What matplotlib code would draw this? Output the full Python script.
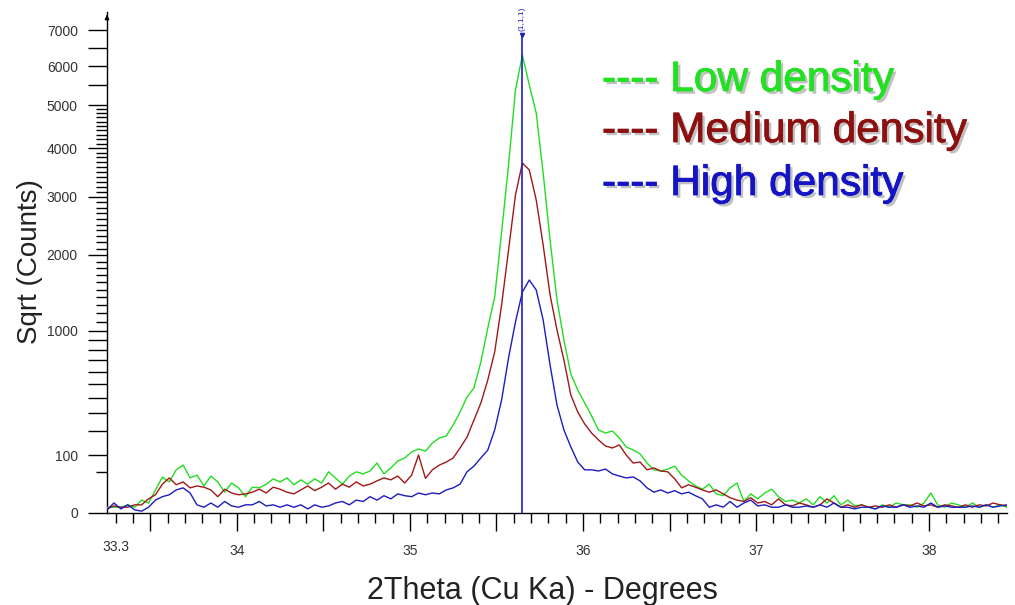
import numpy as np
import matplotlib
matplotlib.use("Agg")
import matplotlib.pyplot as plt
import matplotlib.patheffects as pe
from matplotlib.transforms import blended_transform_factory

plt.rcParams['font.family'] = ['Liberation Sans', 'DejaVu Sans']

# 2Theta scan positions (degrees), step 0.04
two_theta = np.round(np.arange(33.25, 38.4501, 0.04), 2)

low_density = [
    1, 1, 1, 2, 1, 5, 3, 16, 39, 29,
    56, 69, 37, 43, 22, 41, 29, 13, 27, 19,
    8, 20, 19, 25, 35, 29, 37, 24, 33, 25,
    35, 27, 51, 37, 25, 41, 51, 46, 53, 75,
    46, 61, 81, 91, 112, 123, 115, 147, 169, 178,
    233, 306, 404, 469, 685, 1028, 1401, 2371, 3637, 5375,
    6300, 5502, 4806, 3472, 2239, 1363, 899, 580, 454, 363,
    283, 207, 192, 202, 169, 131, 119, 105, 75, 56,
    53, 58, 66, 43, 31, 22, 17, 25, 11, 9,
    19, 27, 4, 11, 6, 12, 17, 8, 4, 5,
    3, 6, 2, 8, 3, 9, 2, 5, 1.5, 2,
    1, 0.5, 2, 1, 3, 2, 2, 1, 3, 12,
    2, 1, 3, 2, 1, 3, 1, 2, 1, 2,
    1,
]

medium_density = [
    0.5, 1.5, 1, 1, 2, 2, 6, 10, 25, 37,
    24, 29, 19, 22, 20, 16, 8, 17, 12, 10,
    11, 13, 17, 12, 20, 17, 13, 11, 16, 22,
    15, 20, 27, 17, 25, 20, 29, 22, 25, 31,
    37, 33, 41, 27, 43, 101, 36, 56, 69, 78,
    91, 127, 173, 260, 363, 531, 779, 1300, 2078, 3037,
    3680, 3534, 2943, 2157, 1428, 1006, 703, 418, 306, 238,
    192, 160, 135, 127, 139, 101, 75, 78, 56, 61,
    53, 51, 35, 19, 24, 20, 16, 13, 16, 11,
    7, 5, 4, 7, 3, 4, 2, 6, 2, 1.5,
    3, 2, 1, 2, 6, 3, 1, 2, 1, 2,
    1, 1.5, 1, 2, 1, 2, 1.5, 3, 1.5, 2,
    1, 2, 1.5, 1, 2, 1, 2, 1.5, 3, 2,
    1.5,
]

high_density = [
    0.3, 3, 0.5, 2, 0.3, 0.1, 1, 5, 8, 10,
    16, 19, 12, 2, 1, 3, 1, 4, 1.5, 1,
    2, 2, 4, 1.5, 2, 1, 2, 1, 2, 0.5,
    2, 1, 1.5, 3, 4, 2, 5, 4, 8, 5,
    9, 6, 11, 9, 8, 12, 10, 12, 11, 16,
    19, 25, 51, 66, 91, 119, 207, 384, 722, 1096,
    1467, 1631, 1494, 1119, 658, 350, 207, 131, 78, 56,
    56, 53, 58, 46, 41, 37, 39, 31, 19, 13,
    16, 12, 15, 11, 13, 9, 6, 1, 2, 1,
    4, 1, 3, 5, 1.5, 2, 1, 1, 2, 1,
    1, 1.5, 1, 2, 1, 3, 1, 1, 0.5, 1,
    1, 0.5, 1.5, 1, 1, 2, 1, 1.5, 1, 3,
    1, 1.5, 1, 1, 1, 1.5, 1, 2, 1, 1.5,
    2,
]

series_labels = ["---- Low density", "---- Medium density", "---- High density"]
peak_position = 35.65
peak_label = "(1,1,1)"

y_major = [0, 100, 1000, 2000, 3000, 4000, 5000, 6000, 7000]
y_unlabeled = [200, 300, 400, 500, 600, 700, 800, 900, 5500, 6500]
y_minor = [50] + [v for v in range(1100, 5000, 100) if v % 1000 != 0]
x_labeled = [34, 35, 36, 37, 38]
x_half = [33.5, 34.5, 35.5, 36.5, 37.5]

line_colors = ["#22dd22", "#a01818", "#1c1cc0"]
text_colors = ["#22e022", "#8c1010", "#1414c4"]

fig = plt.figure(figsize=(10.15, 6.05), dpi=100)
ax = fig.add_axes([107 / 1015, 1 - 513 / 605, 900 / 1015, 501 / 605])

ax.set_yscale('function', functions=(lambda v: np.sqrt(np.clip(v, 0, None)),
                                     lambda v: np.square(v)))
ax.set_xlim(33.25, 38.45)
ax.set_ylim(0, 7540)

for data, c in zip([low_density, medium_density, high_density], line_colors):
    ax.plot(two_theta, data, color=c, lw=1.0, zorder=3)

# reference peak line
ax.vlines(peak_position, 0, 6850, color="#2020c0", lw=1.2, zorder=4)
ax.plot([peak_position], [6850], marker='v', color="#2020c0", ms=3, zorder=5)
ax.text(peak_position, 6980, peak_label, rotation=90, ha='center', va='bottom',
        fontsize=6, color="#2020c0")

for s in ['top', 'right']:
    ax.spines[s].set_visible(False)
for s in ['left', 'bottom']:
    ax.spines[s].set_color('black')
    ax.spines[s].set_linewidth(1.0)

# y ticks
yt = y_major + y_unlabeled
ylab = [str(v) for v in y_major] + [''] * len(y_unlabeled)
ax.set_yticks(yt, labels=ylab)
ax.set_yticks(y_minor, minor=True)
ax.tick_params(axis='y', which='major', length=14, width=1, direction='out',
               pad=7, labelsize=10, labelcolor='#333333')
ax.tick_params(axis='y', which='minor', length=8, width=1, direction='out')

# x ticks
xt = x_half + x_labeled
xlab = [''] * len(x_half) + [str(v) for v in x_labeled]
ax.set_xticks(xt, labels=xlab)
ax.set_xticks(np.round(np.arange(33.3, 38.45, 0.1), 1), minor=True)
ax.tick_params(axis='x', which='major', length=13, width=1, direction='out',
               pad=9, labelsize=10, labelcolor='#333333')
ax.tick_params(axis='x', which='minor', length=7, width=1, direction='out')
tr = blended_transform_factory(ax.transData, ax.transAxes)
ax.text(33.3, -0.054, "33.3", transform=tr, ha='center', va='top',
        fontsize=10, color='#333333')

ax.set_xlabel("2Theta (Cu Ka) - Degrees", fontsize=22, color='#222222')
ax.xaxis.set_label_coords((542 - 107) / 900, -(576 - 513) / 501)
ax.set_ylabel("Sqrt (Counts)", fontsize=20, color='#222222')
ax.yaxis.set_label_coords(-(107 - 43) / 900, (513 - 262) / 501)

# y-axis arrow at top
ax.annotate('', xy=(0, 1.0), xytext=(0, 0.985), xycoords='axes fraction',
            arrowprops=dict(arrowstyle='-|>', color='black', lw=1, mutation_scale=6))

for lbl, c, ypix in zip(series_labels, text_colors, [80, 131, 184]):
    fig.text(602 / 1015, 1 - ypix / 605, lbl, color=c, fontsize=30.5,
             ha='left', va='center', path_effects=[
                 pe.SimplePatchShadow(offset=(2, -2), shadow_rgbFace='#777777', alpha=0.45),
                 pe.Stroke(linewidth=0.6, foreground=c),
                 pe.Normal()])

fig.savefig("out.png", dpi=100, facecolor='white')
